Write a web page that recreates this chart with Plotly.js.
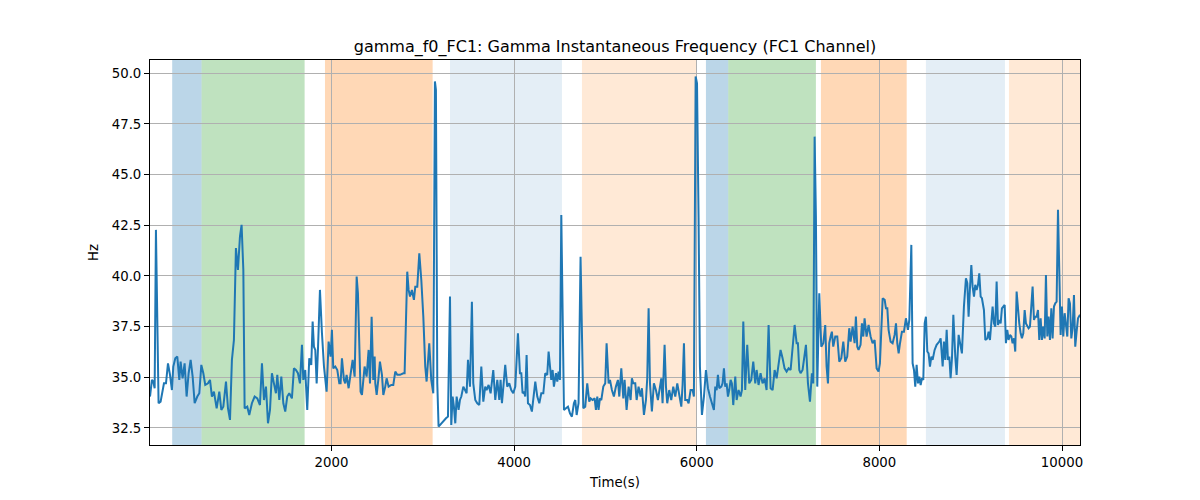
<!DOCTYPE html>
<html>
<head>
<meta charset="utf-8">
<script src="https://cdn.plot.ly/plotly-3.0.1.min.js"></script>
<style>html,body{margin:0;padding:0;background:#fff;}#chart{width:1200px;height:500px;}</style>
</head>
<body>
<div id="chart"></div>
<script>
const times = [
13,34,49,64,78,107,129,151,166,188,210,232,253,268,290,312,334,348,370,392,414,436,458,480,502,531,553,575,597,618,648,670,691,713,743,772,794,816,845,867,889,910,932,954,976,998,1016,1035,1049,1078,1100,1129,1159,1188,1217,1239,1261,1283,1305,1327,1348,1370,1392,1407,1429,1451,1473,1494,1516,1538,1567,1589,1611,1633,1655,1677,1692,1713,1735,1757,1779,1794,1808,1823,1838,1852,1874,1896,1918,1947,1969,1991,2005,2020,2042,2064,2086,
2100,2115,2137,2151,2166,2188,2203,2224,2232,2254,2276,2290,2319,2334,2349,2363,2385,2407,2422,2440,2458,2473,2480,2495,2513,2531,2553,2568,2589,2604,2626,2655,2677,2699,2721,2750,2787,2801,2830,2845,2860,2881,2903,2918,2940,2962,2984,3006,3027,3042,3071,3093,3115,3133,3144,3159,3173,3203,3232,3254,3276,3298,3312,3327,3341,3356,3371,3392,3407,3422,3444,3465,3480,3495,3517,3538,3553,3575,3597,3619,3641,3663,3684,3699,3721,3743,3772,3794,3816,3838,3852,3867,3889,3903,3925,3947,3969,3991,4013,4042,4064,
4079,4093,4108,4122,4137,4152,4174,4195,4210,4232,4254,4276,4298,4320,4341,4363,4378,4393,4407,4422,4436,4458,4473,4487,4502,4517,4546,4568,4590,4612,4633,4655,4670,4685,4706,4728,4758,4779,4801,4823,4838,4860,4882,4896,4911,4925,4940,4955,4977,4998,5013,5035,5050,5071,5093,5115,5137,5152,5174,5196,5210,5232,5254,5276,5290,5305,5327,5342,5363,5385,5400,5422,5444,5458,5473,5488,5509,5531,5553,5575,5590,5612,5626,5648,5663,5677,5699,5721,5743,5765,5787,5809,5831,5845,5860,5874,5896,5911,5933,5955,5969,5988,6003,
6020,6035,6057,6079,6101,6123,6145,6166,6188,6203,6218,6232,6247,6269,6283,6298,6312,6327,6342,6356,6371,6385,6400,6422,6437,6458,6480,6495,6510,6531,6553,6575,6597,6619,6641,6656,6677,6699,6721,6743,6765,6787,6809,6831,6853,6875,6896,6918,6940,6962,6984,7006,7028,7050,7072,7094,7108,7123,7137,7159,7181,7196,7218,7240,7261,7276,7291,7305,7320,7342,7364,7386,7407,7422,7437,7451,7466,7480,7495,7517,7539,7561,7583,7605,7626,7648,7670,7685,7707,7729,7743,7758,7772,7794,7809,7824,7838,7860,7882,7904,7926,7948,7970,7991,8006,
8014,8036,8058,8072,8087,8101,8123,8145,8167,8182,8196,8211,8226,8247,8269,8291,8313,8328,8350,8364,8379,8393,8408,8423,8437,8452,8466,8481,8496,8510,8525,8539,8554,8569,8583,8605,8627,8642,8656,8671,8693,8707,8722,8737,8751,8766,8780,8795,8810,8831,8846,8868,8883,8904,8926,8948,8963,8977,8992,9007,9021,9036,9050,9065,9080,9094,9109,9123,9145,9160,9182,9196,9211,9226,9240,9255,9269,9284,9299,9313,9328,9342,9357,9372,9386,9401,9415,9430,9445,9459,9474,9488,9503,9518,9532,9547,9561,9576,9591,9605,9620,9634,9649,9664,9678,9693,9707,9722,9737,9751,9766,9780,9795,9810,9824,9839,9853,9868,9883,9897,9912,9926,9941,9956,9970,9985,9999,10014,10029,10043,10058,10072,10087,10102,10116,10131,10145,10160,10175,10197
];
const freqHz = [
34.05,34.87,34.79,34.46,42.27,33.72,33.8,34.37,34.7,34.7,35.69,35.12,34.37,35.53,35.94,36.02,34.87,35.77,34.95,35.69,34.05,35.2,35.86,35.03,33.72,34.05,34.21,35.61,35.2,34.62,34.7,34.87,34.05,34.29,33.47,34.29,33.39,33.55,34.79,33.47,32.9,35.86,36.84,41.37,40.3,41.94,42.52,40.3,33.47,33.55,33.14,33.72,34.05,33.96,33.63,35.69,33.88,34.54,32.73,33.39,35.2,34.7,34.21,35.12,33.88,35.03,33.72,33.31,34.05,34.21,33.96,35.44,35.36,35.2,34.7,36.6,34.87,35.36,33.39,35.94,35.61,37.75,36.51,36.35,34.7,36.35,39.31,37.17,35.53,34.29,36.76,36.02,37.34,35.44,35.53,35.36,34.7,
34.7,35.94,34.87,34.7,35.12,34.46,34.95,35.61,35.86,35.03,39.97,39.14,34.29,34.13,35.12,35.53,35.03,36.35,34.7,37.99,34.87,36.02,34.7,34.13,34.87,35.77,35.12,34.13,34.54,34.95,34.54,34.62,34.62,35.28,35.12,35.12,35.2,35.2,40.21,39.31,38.98,39.31,38.82,39.47,39.47,41.12,39.8,37.99,35.53,34.79,36.68,34.87,34.21,49.59,49.18,34.7,32.57,32.73,32.9,32.98,33.06,38.98,32.65,34.05,33.55,32.73,34.05,33.39,33.88,34.05,34.54,34.37,34.21,35.86,34.54,38.73,34.7,33.88,33.72,33.63,35.53,33.8,34.54,34.37,34.62,34.21,35.36,33.88,34.87,33.88,34.87,33.72,34.7,35.61,34.54,34.7,34.37,34.21,34.54,37.17,35.2,
35.2,34.21,34.29,34.05,36.1,33.72,33.63,33.31,34.05,34.79,34.05,33.72,34.21,34.21,35.2,35.12,36.27,35.61,34.87,35.36,34.54,35.2,34.79,35.28,34.87,43.01,33.39,33.47,33.55,33.22,33.06,33.72,33.88,33.14,33.72,40.95,33.47,33.55,34.7,33.8,33.96,33.88,33.96,33.39,34.05,33.39,33.96,33.88,34.54,34.7,36.68,34.7,34.87,34.37,34.05,34.54,34.87,34.05,35.44,33.96,34.87,33.39,34.54,33.88,34.95,34.7,34.7,33.88,34.54,34.05,34.46,33.14,33.88,34.95,38.4,34.7,33.31,34.7,34.37,33.88,34.37,34.95,33.72,36.6,34.54,33.72,34.37,33.88,34.54,34.05,34.7,34.13,33.55,34.62,36.68,33.88,33.88,33.72,34.37,34.37,34.05,49.84,49.5,
42.9,35.53,33.14,34.05,35.36,34.46,34.05,33.72,33.39,34.54,34.37,35.12,34.46,34.54,34.7,35.44,34.54,34.7,34.05,34.37,34.87,34.7,33.63,35.03,33.88,34.37,34.05,34.37,37.75,34.37,36.6,34.7,34.87,35.77,34.7,35.36,34.62,35.2,34.7,34.95,34.37,37.58,34.46,34.37,35.36,34.95,35.69,36.35,35.94,35.44,35.28,35.44,35.36,36.35,37.58,36.68,36.68,35.36,35.2,35.36,36.18,36.6,34.7,33.8,35.2,34.7,46.87,42.93,34.54,39.14,36.51,36.68,37.58,35.53,34.7,36.68,37.01,37.25,36.51,37.01,37.01,35.77,35.94,36.76,35.77,36.02,37.42,36.76,37.5,36.68,37.99,36.51,36.35,36.6,37.66,37.01,37.91,37.01,37.58,37.01,36.68,36.84,35.44,35.28,35.69,
36.51,38.9,38.82,38.4,38.4,37.34,36.76,36.68,37.09,37.66,36.68,36.18,36.68,37.25,37.25,37.91,37.34,37.83,41.53,35.69,35.36,34.54,35.61,34.7,35.03,34.62,34.95,34.87,37.66,37.99,36.27,36.18,35.53,36.02,35.86,36.35,36.6,36.68,36.76,36.92,35.53,36.76,35.86,37.34,35.86,36.02,34.95,35.94,38.08,36.02,35.12,37.09,36.6,36.18,38.49,39.88,39.64,37.99,39.39,40.54,39.47,38.98,39.56,39.31,39.56,40.13,38.98,38.9,38.32,36.84,36.92,37.25,36.84,37.75,38.49,37.66,37.5,39.72,37.58,37.83,37.66,38.4,38.49,38.57,36.68,37.34,36.84,37.09,37.01,36.68,36.92,36.27,39.23,38.24,37.66,37.17,36.92,37.17,38.32,37.66,37.5,37.42,37.5,38.49,39.47,37.83,37.99,37.99,38.32,36.84,37.91,36.84,37.5,36.92,40.05,37.01,37.99,36.84,38.4,36.92,38.49,38.65,38.73,43.26,40.46,37.09,38.49,37.01,38.16,37.42,37.01,38.9,38.65,36.92,37.42,39.06,36.51,37.25,37.91,38.08
];

// shaded intervals (start, end, colour)
const spanStarts = [256, 578, 1929, 3298, 4743, 6101, 6345, 7360, 8510, 9419];
const spanEnds   = [578, 1706, 3108, 4524, 5998, 6345, 7305, 8299, 9375, 10300];
const spanColors = [
  'rgba(31,119,180,0.3)', 'rgba(44,160,44,0.3)', 'rgba(255,127,14,0.3)',
  'rgba(31,119,180,0.12)', 'rgba(255,127,14,0.17)',
  'rgba(31,119,180,0.3)', 'rgba(44,160,44,0.3)', 'rgba(255,127,14,0.3)',
  'rgba(31,119,180,0.12)', 'rgba(255,127,14,0.17)'
];

const xTicks = [2000, 4000, 6000, 8000, 10000];
const yTicks = [32.5, 35.0, 37.5, 40.0, 42.5, 45.0, 47.5, 50.0];

const shapes = spanStarts.map((s, i) => ({
  type: 'rect', xref: 'x', yref: 'paper', x0: s, x1: spanEnds[i], y0: 0, y1: 1,
  fillcolor: spanColors[i], line: {width: 0}, layer: 'below'
}));

const trace = {
  x: times, y: freqHz, type: 'scatter', mode: 'lines',
  line: {color: '#1f77b4', width: 2}, hoverinfo: 'x+y'
};

const font = {family: 'DejaVu Sans, sans-serif', size: 13.3, color: '#000'};
const layout = {
  width: 1200, height: 500,
  margin: {l: 150, r: 120, t: 60, b: 55},
  paper_bgcolor: '#fff', plot_bgcolor: '#fff',
  showlegend: false,
  font: font,
  title: {text: 'gamma_f0_FC1: Gamma Instantaneous Frequency (FC1 Channel)',
          font: {family: 'DejaVu Sans, sans-serif', size: 16, color: '#000'},
          x: 0.5125, xanchor: 'center', y: 0.908, yanchor: 'middle'},
  xaxis: {
    range: [13, 10197], tickvals: xTicks, ticktext: xTicks.map(String),
    showgrid: true, gridcolor: '#b0b0b0', gridwidth: 1,
    zeroline: false, showline: true, mirror: true, linecolor: '#000', linewidth: 1,
    ticks: 'outside', ticklen: 5, tickcolor: '#000', tickwidth: 1,
    tickfont: font,
    title: {text: 'Time(s)', font: font, standoff: 8}
  },
  yaxis: {
    range: [31.66, 50.65], tickvals: yTicks, ticktext: yTicks.map(v => v.toFixed(1)),
    showgrid: true, gridcolor: '#b0b0b0', gridwidth: 1,
    zeroline: false, showline: true, mirror: true, linecolor: '#000', linewidth: 1,
    ticks: 'outside', ticklen: 5, tickcolor: '#000', tickwidth: 1,
    tickfont: font,
    title: {text: 'Hz', font: font, standoff: 10}
  },
  shapes: shapes
};

Plotly.newPlot('chart', [trace], layout, {displayModeBar: false, staticPlot: true});
</script>
</body>
</html>
